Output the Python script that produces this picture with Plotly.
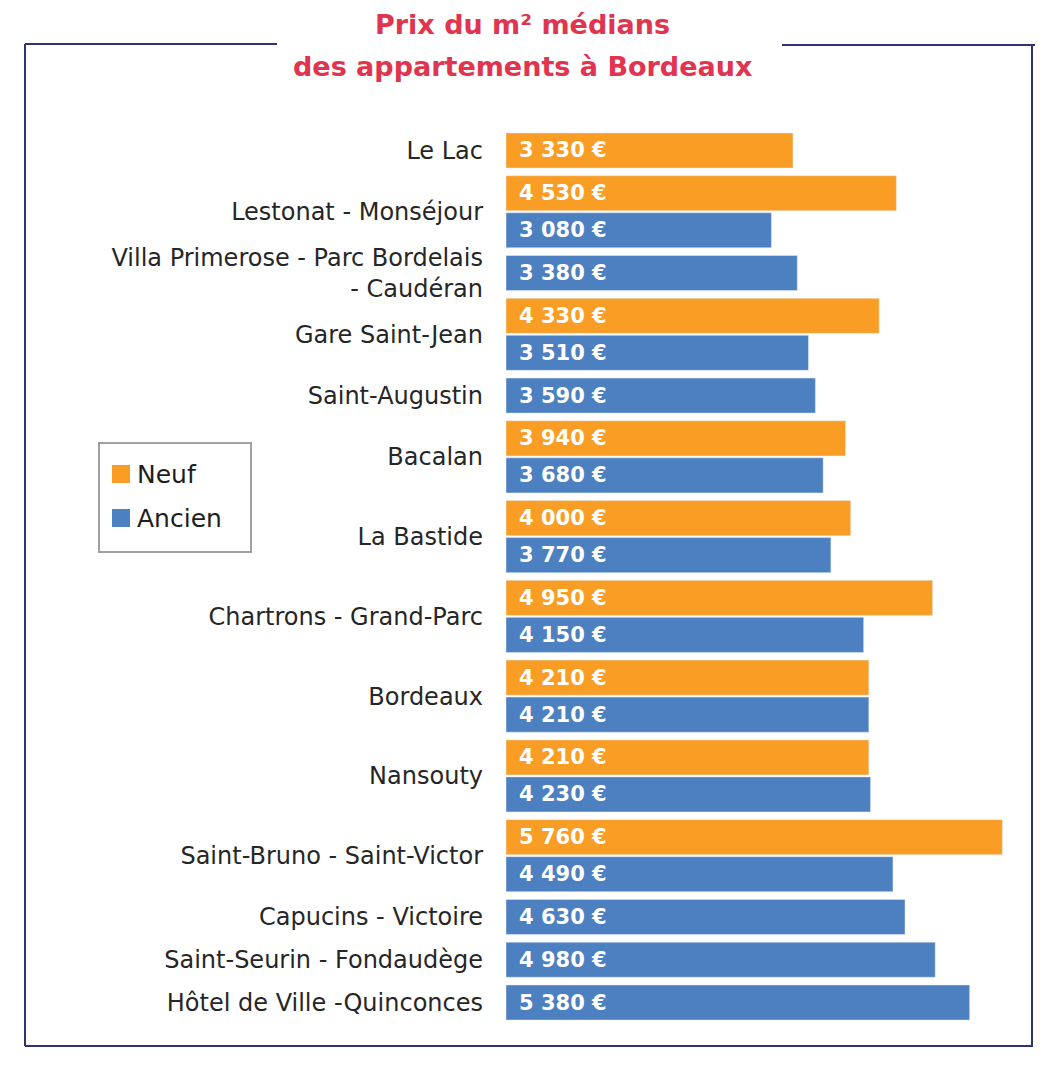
"""
Prix du m² médians des appartements à Bordeaux - horizontal bars, Neuf / Ancien.
"""
import plotly.graph_objects as go

# --- data -----------------------------------------------------------------
categories = [
    "Le Lac",
    "Lestonat - Monséjour",
    "Villa Primerose - Parc Bordelais<br>- Caudéran",
    "Gare Saint-Jean",
    "Saint-Augustin",
    "Bacalan",
    "La Bastide",
    "Chartrons - Grand-Parc",
    "Bordeaux",
    "Nansouty",
    "Saint-Bruno - Saint-Victor",
    "Capucins - Victoire",
    "Saint-Seurin - Fondaudège",
    "Hôtel de Ville -Quinconces",
]
neuf = [3330, 4530, None, 4330, None, 3940, 4000, 4950, 4210, 4210, 5760, None, None, None]
ancien = [None, 3080, 3380, 3510, 3590, 3680, 3770, 4150, 4210, 4230, 4490, 4630, 4980, 5380]
series_names = ["Neuf", "Ancien"]

ORANGE = "#F99D25"
BLUE = "#4C80C0"
TITLE_RED = "#E0344F"
FRAME = "#2E3472"

# page has an 8px body margin, so the figure is a bit smaller than the window
OFF = 8
W, H = 1056 - OFF, 1072 - OFF
# plot area in page pixels
PL, PR, PT, PB = 506, 1030, 112, 1041
GROUP_GAP = 1.0
PAIR_GAP = 0.865
BAR_W = 0.82


def fmt(v):
    return f"{v:,}".replace(",", " ") + " €"


# row position of every bar, one row per bar; tick at the middle of each group
neuf_y, neuf_x, anc_y, anc_x = [], [], [], []
tick_vals = []
pos = -GROUP_GAP
for n, a in zip(neuf, ancien):
    pos += GROUP_GAP
    rows = []
    if n is not None:
        neuf_y.append(pos)
        neuf_x.append(n)
        rows.append(pos)
    if a is not None:
        if rows:
            pos += PAIR_GAP
        anc_y.append(pos)
        anc_x.append(a)
        rows.append(pos)
    tick_vals.append(sum(rows) / len(rows))


def px(x, y):
    """page pixel -> paper coordinates"""
    return (x - PL) / (PR - PL), (PB - y) / (PB - PT)


fig = go.Figure()
fig.add_trace(go.Bar(x=neuf_x, y=neuf_y, orientation="h", width=BAR_W,
                     marker_color=ORANGE, name=series_names[0], hoverinfo="x"))
fig.add_trace(go.Bar(x=anc_x, y=anc_y, orientation="h", width=BAR_W,
                     marker_color=BLUE, name=series_names[1], hoverinfo="x"))

annotations = []
for xs, ys in ((neuf_x, neuf_y), (anc_x, anc_y)):
    for v, y in zip(xs, ys):
        annotations.append(dict(
            x=0, y=y, xref="x", yref="y", text=fmt(v), showarrow=False,
            xanchor="left", yanchor="middle", xshift=11,
            font=dict(family="DejaVu Sans", size=21, color="white", weight="bold"),
        ))

# title, two lines
for text, yy in (("Prix du m² médians", 25), ("des appartements à Bordeaux", 67)):
    xp, yp = px(522, yy)
    annotations.append(dict(
        x=xp, y=yp, xref="paper", yref="paper", text=text, showarrow=False,
        xanchor="center", yanchor="middle", borderpad=0,
        font=dict(family="DejaVu Sans", size=27, color=TITLE_RED, weight="bold"),
    ))

shapes = []
# frame with a gap for the title
frame_pts = [
    ((277, 44), (25, 44)),
    ((25, 44), (25, 1046)),
    ((25, 1046), (1033, 1046)),
    ((1032, 1046), (1032, 45)),
    ((1035, 45), (782, 45)),
]
for (x0, y0), (x1, y1) in frame_pts:
    a0, b0 = px(x0, y0)
    a1, b1 = px(x1, y1)
    shapes.append(dict(type="line", xref="paper", yref="paper", x0=a0, y0=b0,
                       x1=a1, y1=b1, line=dict(color=FRAME, width=2)))

# legend box
lx0, ly0 = px(99, 443)
lx1, ly1 = px(251, 552)
shapes.append(dict(type="rect", xref="paper", yref="paper", x0=lx0, y0=ly0,
                   x1=lx1, y1=ly1, line=dict(color="#A0A0A0", width=2)))
for name, color, yy in ((series_names[0], ORANGE, 474), (series_names[1], BLUE, 518)):
    sx0, sy0 = px(112, yy - 9)
    sx1, sy1 = px(130, yy + 9)
    shapes.append(dict(type="rect", xref="paper", yref="paper", x0=sx0, y0=sy0,
                       x1=sx1, y1=sy1, line=dict(width=0), fillcolor=color))
    tx, ty = px(135, yy)
    annotations.append(dict(
        x=tx, y=ty, xref="paper", yref="paper", text=name, showarrow=False,
        xanchor="left", yanchor="middle",
        font=dict(family="DejaVu Sans", size=25, color="#1E1E1E"),
    ))

fig.update_layout(
    width=W,
    height=H,
    margin=dict(l=PL - OFF, r=W - (PR - OFF), t=PT - OFF, b=H - (PB - OFF), pad=0),
    barmode="overlay",
    showlegend=False,
    plot_bgcolor="white",
    paper_bgcolor="white",
    xaxis=dict(range=[0, 6080], visible=False, fixedrange=True),
    yaxis=dict(
        range=[anc_y[-1] + 0.9, -0.9],
        tickmode="array",
        tickvals=tick_vals,
        ticktext=categories,
        showgrid=False,
        zeroline=False,
        showline=False,
        ticks="",
        ticklabelstandoff=22,
        tickfont=dict(family="DejaVu Sans", size=24, color="#262626"),
        fixedrange=True,
    ),
    annotations=annotations,
    shapes=shapes,
)

fig.write_html("out.html")
